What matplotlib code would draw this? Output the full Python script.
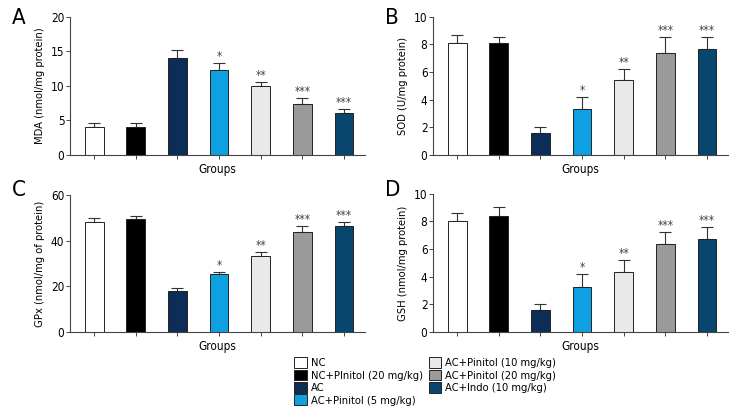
import matplotlib
matplotlib.use('Agg')
import matplotlib.pyplot as plt
from matplotlib.patches import Patch

plt.rcParams['font.family'] = ['DejaVu Sans Condensed', 'Liberation Sans Narrow', 'DejaVu Sans']
plt.rcParams['font.stretch'] = 'condensed'

groups = ['NC', 'NC+PInitol (20 mg/kg)', 'AC', 'AC+Pinitol (5 mg/kg)',
          'AC+Pinitol (10 mg/kg)', 'AC+Pinitol (20 mg/kg)', 'AC+Indo (10 mg/kg)']
colors = ['#ffffff', '#000000', '#0b2d58', '#0fa0e2', '#e9e9e9', '#9a9a9a', '#08466e']
stars = ['', '', '', '*', '**', '***', '***']

# mean and SEM
mda = [4.1, 4.0, 14.0, 12.3, 9.95, 7.45, 6.1]
mda_err = [0.5, 0.6, 1.2, 0.95, 0.6, 0.85, 0.55]
sod = [8.1, 8.1, 1.62, 3.3, 5.45, 7.35, 7.7]
sod_err = [0.55, 0.47, 0.4, 0.9, 0.75, 1.2, 0.85]
gpx = [48.0, 49.6, 17.9, 25.3, 33.5, 43.8, 46.6]
gpx_err = [1.8, 1.3, 1.3, 1.2, 1.6, 2.5, 1.7]
gsh = [8.05, 8.38, 1.62, 3.27, 4.32, 6.4, 6.72]
gsh_err = [0.57, 0.68, 0.4, 0.93, 0.92, 0.82, 0.88]

panels = [
    ('A', mda, mda_err, 'MDA (nmol/mg protein)', 20, 5, [0.0926, 0.631, 0.39, 0.329], (12, 18)),
    ('B', sod, sod_err, 'SOD (U/mg protein)', 10, 2, [0.5728, 0.631, 0.39, 0.329], (385, 18)),
    ('C', gpx, gpx_err, 'GPx (nmol/mg of protein)', 60, 20, [0.0926, 0.2095, 0.39, 0.326], (12, 190)),
    ('D', gsh, gsh_err, 'GSH (nmol/mg protein)', 10, 2, [0.5728, 0.2095, 0.39, 0.329], (385, 190)),
]

fig = plt.figure(figsize=(7.56, 4.2), dpi=100)

for letter, vals, errs, ylab, ymax, step, pos, lpos in panels:
    ax = fig.add_axes(pos)
    x = range(len(vals))
    ax.bar(x, vals, width=0.45, color=colors, edgecolor='#222222', linewidth=0.7, zorder=2)
    ax.errorbar(x, vals, yerr=[[0] * len(errs), errs], fmt='none', ecolor='#333333',
                elinewidth=0.8, capsize=4, capthick=0.8, zorder=1)
    for xi, v, e, s in zip(x, vals, errs, stars):
        if s:
            ax.text(xi, v + e, s, ha='center', va='bottom', fontsize=8.5, color='#444444')
    ax.set_ylim(0, ymax)
    ax.set_xlim(-0.58, 6.5)
    ax.set_yticks(range(0, ymax + 1, step))
    ax.set_xticks(list(x))
    ax.set_xticklabels([])
    ax.spines['top'].set_visible(False)
    ax.spines['right'].set_visible(False)
    ax.spines['left'].set_color('#444444')
    ax.spines['bottom'].set_color('#444444')
    ax.tick_params(axis='both', length=3, width=0.7, color='#444444', labelsize=8.5, pad=1)
    ax.set_ylabel(ylab, fontsize=8, labelpad=4)
    ax.set_xlabel('Groups', fontsize=8.5, labelpad=2)
    fig.text(lpos[0] / 756, 1 - lpos[1] / 420, letter, fontsize=16, va='center', ha='left')

handles = [Patch(facecolor=c, edgecolor='#222222', linewidth=0.7) for c in colors]
fig.legend(handles, groups, ncol=2, loc='upper left', bbox_to_anchor=(0.382, 0.163),
           frameon=False, fontsize=8, handlelength=1.1, handleheight=1.1,
           handletextpad=0.4, columnspacing=0.5, labelspacing=0.12, borderpad=0)

fig.savefig('out.png', dpi=100)
